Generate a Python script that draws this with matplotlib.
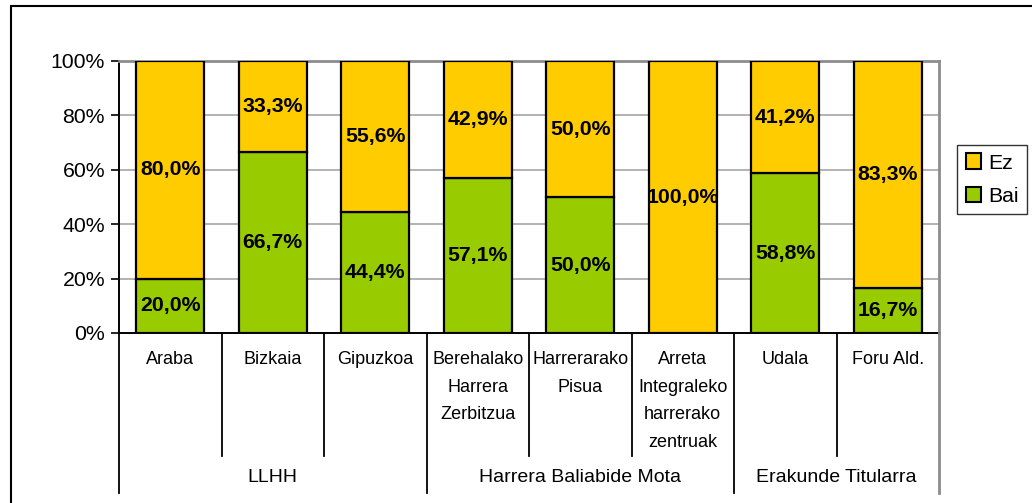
import matplotlib
matplotlib.use("Agg")
import matplotlib.pyplot as plt
from matplotlib.patches import Rectangle, Patch
from matplotlib.lines import Line2D
import numpy as np

categories = ["Araba", "Bizkaia", "Gipuzkoa", "Berehalako\nHarrera\nZerbitzua",
              "Harrerarako\nPisua", "Arreta\nIntegraleko\nharrerako\nzentruak",
              "Udala", "Foru Ald."]
groups = ["LLHH", "Harrera Baliabide Mota", "Erakunde Titularra"]
group_sizes = [3, 3, 2]
bai = [20.0, 66.7, 44.4, 57.1, 50.0, 0.0, 58.8, 16.7]
ez = [80.0, 33.3, 55.6, 42.9, 50.0, 100.0, 41.2, 83.3]
yticks = [0, 20, 40, 60, 80, 100]

YELLOW = "#FFCC00"
GREEN = "#99CC00"
FONT_REG = ["Liberation Sans", "DejaVu Sans"]

W, H = 1032, 503
fig = plt.figure(figsize=(W / 100, H / 100), dpi=100)

def fx(px):
    return px / W

def fy(py):
    return 1 - py / H

left, right, top, bottom = 119, 939, 61, 333
ax = fig.add_axes([fx(left), fy(bottom), fx(right - left), fy(top) - fy(bottom)])

x = np.arange(len(categories))
bw = 0.665
ax.bar(x, bai, bw, color=GREEN, edgecolor="black", linewidth=1.6, zorder=3, label="Bai")
ax.bar(x, ez, bw, bottom=bai, color=YELLOW, edgecolor="black", linewidth=1.6, zorder=3, label="Ez")

for i in range(len(categories)):
    if bai[i] > 0:
        ax.text(x[i], bai[i] / 2, f"{bai[i]:.1f}%".replace(".", ","), ha="center", va="center",
                fontsize=15.3, fontweight="bold", family=FONT_REG, zorder=4)
    if ez[i] > 0:
        ax.text(x[i], bai[i] + ez[i] / 2, f"{ez[i]:.1f}%".replace(".", ","), ha="center", va="center",
                fontsize=15.3, fontweight="bold", family=FONT_REG, zorder=4)

ax.set_xlim(-0.5, len(categories) - 0.5)
ax.set_ylim(0, 100)
ax.set_yticks(yticks)
ax.set_yticklabels([f"{v}%" for v in yticks], family=FONT_REG, fontsize=15.3)
ax.tick_params(axis="y", length=6, width=1.2, color="black", pad=4)
ax.set_xticks([])
for yv in yticks[1:]:
    ax.axhline(yv, color="#A6A6A6", linewidth=1.2, zorder=1)
ax.spines["left"].set_color("black")
ax.spines["left"].set_linewidth(1.4)
ax.spines["bottom"].set_color("black")
ax.spines["bottom"].set_linewidth(1.4)
ax.spines["top"].set_color("#8C8C8C")
ax.spines["top"].set_linewidth(2)
ax.spines["right"].set_color("#8C8C8C")
ax.spines["right"].set_linewidth(2)

# category separators and labels (figure pixel coords)
slot = (right - left) / len(categories)
cat_bottom, grp_bottom = 456, 493
boundaries = np.cumsum([0] + group_sizes)
for i in range(len(categories) + 1):
    xp = left + i * slot
    yb = grp_bottom if i in boundaries else cat_bottom
    col = "#8C8C8C" if i == len(categories) else "black"
    fig.add_artist(Line2D([fx(xp), fx(xp)], [fy(bottom), fy(yb)], color=col,
                          linewidth=1.3 if col == "black" else 2))
for i, c in enumerate(categories):
    fig.text(fx(left + (i + 0.5) * slot), fy(351), c, ha="center", va="top",
             fontsize=13, family=FONT_REG, linespacing=1.82)
for g, (a, b) in enumerate(zip(boundaries[:-1], boundaries[1:])):
    fig.text(fx(left + (a + b) / 2 * slot), fy(478), groups[g], ha="center", va="center",
             fontsize=14, family=FONT_REG)

# outer frame
fig.add_artist(Rectangle((fx(11), fy(515)), fx(1040 - 11), fy(6) - fy(515),
                         fill=False, edgecolor="black", linewidth=1.5))

# legend
handles = [Patch(facecolor=YELLOW, edgecolor="black", linewidth=1.5, label="Ez"),
           Patch(facecolor=GREEN, edgecolor="black", linewidth=1.5, label="Bai")]
leg = fig.legend(handles=handles, loc="upper left", bbox_to_anchor=(fx(957), fy(145)),
                 frameon=True, fancybox=False, edgecolor="black", handlelength=0.75,
                 handleheight=0.75, handletextpad=0.3, borderpad=0.4, labelspacing=0.65,
                 prop={"family": FONT_REG, "size": 15.3}, borderaxespad=0)
leg.get_frame().set_linewidth(1.0)

fig.savefig("out.png", dpi=100)
